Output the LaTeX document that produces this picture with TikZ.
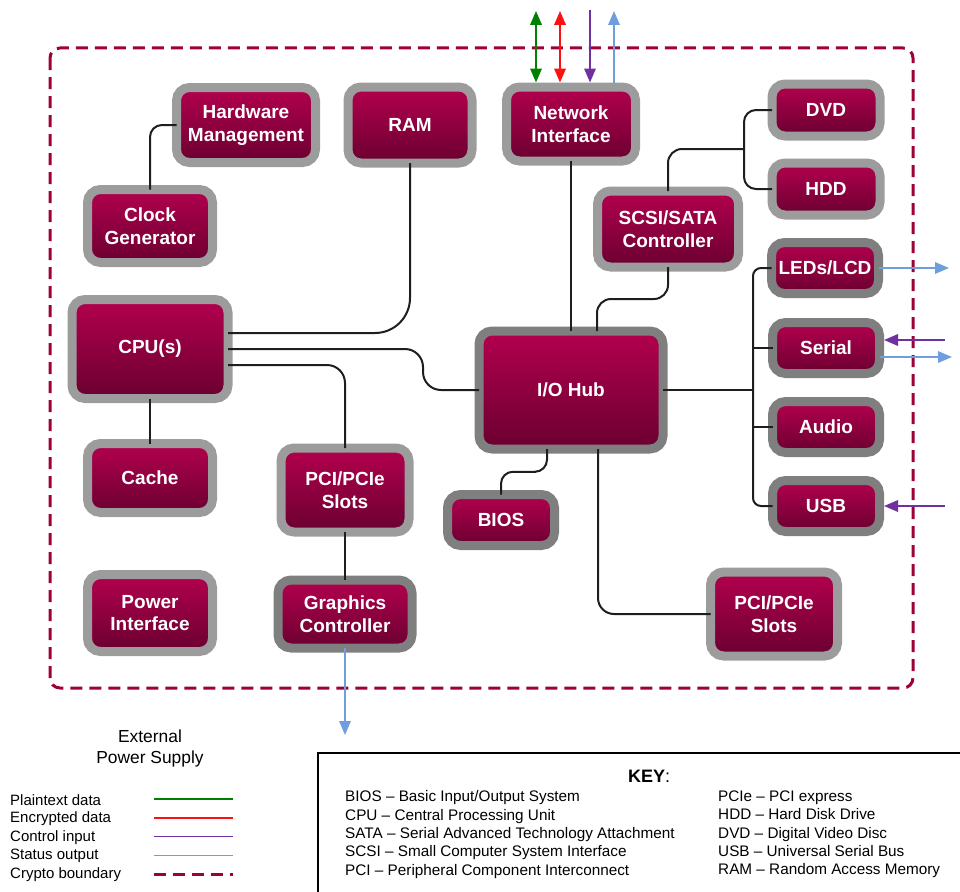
\documentclass[tikz,border=0pt]{standalone}
\usepackage{fontspec}
\setmainfont{Liberation Sans}
\usetikzlibrary{arrows.meta, calc}
\definecolor{boxtop}{HTML}{B3004E}
\definecolor{boxbot}{HTML}{6A0030}
\definecolor{rimlight}{HTML}{9C9C9C}
\definecolor{rimdark}{HTML}{7F7F7F}
\definecolor{wirecol}{HTML}{1C1F1C}
\definecolor{boundcol}{HTML}{9E0038}
\definecolor{greendata}{HTML}{008000}
\definecolor{reddata}{HTML}{FF1010}
\definecolor{purplectl}{HTML}{7030A0}
\definecolor{bluestat}{HTML}{6E9EDE}

\begin{document}
\begin{tikzpicture}[x=1pt, y=-1pt, >={Triangle[length=14pt, width=11.5pt]},
  box/.style={draw=rimlight, line width=9pt, rounded corners=13pt, outer sep=0pt, inner sep=0pt,
    top color=boxtop, bottom color=boxbot, text=white, align=center,
    font=\bfseries\fontsize{19}{22.5}\selectfont},
  dbox/.style={box, draw=rimdark},
  port/.style={dbox, minimum width=107pt, minimum height=51pt},
  wire/.style={line width=2pt, draw=wirecol, rounded corners=14pt},
  plaindata/.style={line width=2pt, draw=greendata},
  cryptdata/.style={line width=2pt, draw=reddata},
  ctrlin/.style={line width=1.7pt, draw=purplectl},
  statout/.style={line width=1.7pt, draw=bluestat},
  cryptbound/.style={line width=3pt, draw=boundcol, dash pattern=on 12pt off 7pt},
  legend/.style={inner sep=0pt, font=\fontsize{15}{18}\selectfont},
  keytext/.style={inner sep=0pt, align=left, font=\fontsize{15.3}{18.4}\selectfont}]
\useasboundingbox (0,0) rectangle (960,891);

\draw[cryptbound, rounded corners=10pt] (50,48) rectangle (913,688);

\node[box, minimum width=139pt, minimum height=75pt] (hwm) at (246,125) {Hardware\\Management};
\node[box, minimum width=124pt, minimum height=76pt] (ram) at (410,125) {RAM};
\node[box, minimum width=129pt, minimum height=74pt] (net) at (571,124) {Network\\Interface};
\node[box, minimum width=108pt, minimum height=52pt] (dvd) at (826,110) {DVD};
\node[box, minimum width=108pt, minimum height=52pt] (hdd) at (826,189) {HDD};
\node[box, minimum width=125pt, minimum height=73pt] (clk) at (150,226) {Clock\\Generator};
\node[box, minimum width=141pt, minimum height=76pt] (scsi) at (668,229) {SCSI/SATA\\Controller};
\node[port] (leds) at (825,268) {LEDs/LCD};
\node[box, minimum width=156pt, minimum height=99pt] (cpu) at (150,349) {CPU(s)};
\node[port] (serial) at (826,348) {Serial};
\node[dbox, minimum width=184pt, minimum height=118pt] (io) at (571,390) {I/O Hub};
\node[port] (audio) at (826,427) {Audio};
\node[box, minimum width=125pt, minimum height=69pt] (cache) at (150,478) {Cache};
\node[box, minimum width=128pt, minimum height=84pt] (pcil) at (345,490) {PCI/PCIe\\Slots};
\node[port] (bios) at (501,520) {BIOS};
\node[port] (usb) at (826,506) {USB};
\node[box, minimum width=125pt, minimum height=77pt] (pwr) at (150,613) {Power\\Interface};
\node[dbox, minimum width=134pt, minimum height=68pt] (gfx) at (345,614) {Graphics\\Controller};
\node[box, minimum width=127pt, minimum height=84pt] (pcir) at (774,614) {PCI/PCIe\\Slots};

\coordinate (stor) at (744,149);
\coordinate (bus) at (753,390);
\draw[wire, rounded corners=12pt] (hwm.west) -| (clk.north);
\draw[wire, rounded corners=35pt] ([yshift=16pt]cpu.east) -| (ram.south);
\draw[wire, rounded corners=18pt] (cpu.east) -| ([xshift=-56pt]io.west) -- (io.west);
\draw[wire, rounded corners=18pt] ([yshift=-16pt]cpu.east) -| (pcil.north);
\draw[wire] (cpu.south) -- (cache.north);
\draw[wire] (pcil.south) -- (gfx.north);
\draw[wire] (net.south) -- (io.north);
\draw[wire] (scsi.north) |- (stor);
\draw[wire, rounded corners=12pt] (dvd.west) -| (stor) |- (hdd.west);
\draw[wire] (scsi.south) |- ($(scsi.south)!.5!([xshift=26pt]io.north)$) -| ([xshift=26pt]io.north);
\draw[wire, rounded corners=12pt] ([xshift=-24pt]io.south) |- ($([xshift=-24pt]io.south)!.5!(bios.north)$) -| (bios.north);
\draw[wire, rounded corners=16pt] ([xshift=27pt]io.south) |- (pcir.west);
\draw[wire] (io.east) -- (bus);
\draw[wire, rounded corners=8pt] (leds.west) -| (bus) |- (usb.west);
\draw[wire] (serial.west) -- (serial.west -| bus);
\draw[wire] (audio.west) -- (audio.west -| bus);

\coordinate (gtop) at (536,11);
\coordinate (rtop) at (560,11);
\coordinate (ptop) at (590,10);
\coordinate (btop) at (614,11);
\draw[plaindata, <->] ([xshift=-35pt, yshift=4.5pt]net.north) -- (gtop);
\draw[cryptdata, <->] ([xshift=-11pt, yshift=4.5pt]net.north) -- (rtop);
\draw[ctrlin, ->] (ptop) -- ([xshift=19pt, yshift=4.5pt]net.north);
\draw[statout, ->] ([xshift=43pt, yshift=4.5pt]net.north) -- (btop);

\coordinate (ledsout) at (949,268);
\coordinate (serin) at (945,340);
\coordinate (serout) at (952,357);
\coordinate (usbin) at (945,506);
\coordinate (gfxout) at (345,735);
\draw[statout, ->] (leds.east) -- (ledsout);
\draw[ctrlin, ->] (serin) -- ([xshift=4.5pt, yshift=8pt]serial.east);
\draw[statout, ->] ([yshift=-9pt]serial.east) -- (serout);
\draw[ctrlin, ->] (usbin) -- ([xshift=4.5pt]usb.east);
\draw[statout, ->] (gfx.south) -- (gfxout);

\node[align=center, font=\fontsize{17.4}{21}\selectfont] (ext) at (150,748) {External\\Power Supply};
\foreach \txt/\sty [count=\i] in {Plaintext data/plaindata, Encrypted data/cryptdata,
    Control input/ctrlin, Status output/statout, Crypto boundary/cryptbound}{
  \node[legend, anchor=west] (leg\i) at (10,{800.5+18.5*(\i-1)}) {\txt};
  \draw[\sty] (154,{799+18.8*(\i-1)}) -- ++(79,0);
}

\draw[line width=1.5pt] (318,753) rectangle (975,905);
\node[font=\fontsize{18}{21}\selectfont] (key) at (649,776) {\textbf{KEY}:};
\node[keytext, anchor=north west] (keyl) at (345,790.5) {BIOS -- Basic Input/Output System\\
  CPU -- Central Processing Unit\\SATA -- Serial Advanced Technology Attachment\\
  SCSI -- Small Computer System Interface\\PCI -- Peripheral Component Interconnect};
\node[keytext, anchor=north west] (keyr) at (718,790.5) {PCIe -- PCI express\\HDD -- Hard Disk Drive\\
  DVD -- Digital Video Disc\\USB -- Universal Serial Bus\\RAM -- Random Access Memory};
\end{tikzpicture}
\end{document}
